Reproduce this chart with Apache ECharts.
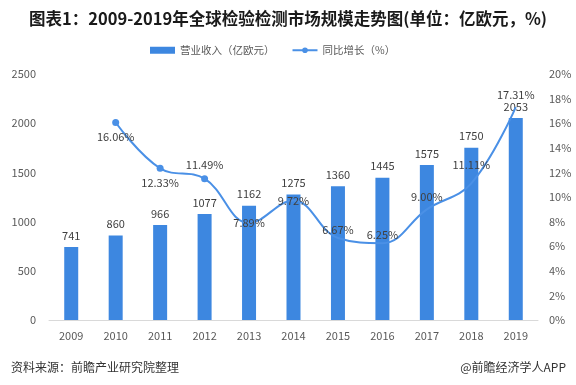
<!DOCTYPE html>
<html><head><meta charset="utf-8">
<script src="https://cdn.jsdelivr.net/npm/echarts@6/dist/echarts.min.js"></script>
<style>html,body{margin:0;padding:0;background:#fff}#c{width:576px;height:385px}</style>
</head><body><div id="c"></div>
<script>
const years = ['2009','2010','2011','2012','2013','2014','2015','2016','2017','2018','2019'];
const revenue = [741, 860, 966, 1077, 1162, 1275, 1360, 1445, 1575, 1750, 2053];
const growth = [null, 16.06, 12.33, 11.49, 7.89, 9.72, 6.67, 6.25, 9.00, 11.11, 17.31];
const leftTicks = [0, 500, 1000, 1500, 2000, 2500];
const rightTicks = [0, 2, 4, 6, 8, 10, 12, 14, 16, 18, 20];

const labelPos = [null, ['bottom',[0,0]], ['bottom',[0,0]], ['top',[0,0]], ['top',[0,10]], ['inside',[0,0]], ['top',[0,2]], ['top',[0,2]], ['top',[0,-2]], ['top',[0,-8]], ['top',[0,-2]]];
const showMarker = [false, true, true, true, false, false, false, false, false, false, false];

const chart = echarts.init(document.getElementById('c'));
chart.setOption({
  animation: false,
  textStyle: {fontFamily: '"Noto Sans CJK SC", "Liberation Sans", sans-serif'},
  title: [{
    text: '图表1：2009-2019年全球检验检测市场规模走势图(单位：亿欧元，%)',
    left: 'center', top: 5,
    textStyle: {fontSize: 16.5, fontWeight: 'bold', color: '#1a1a1a', fontFamily: '"Noto Sans CJK SC", sans-serif'}
  }, {
    text: '资料来源：前瞻产业研究院整理', left: 6, top: 356,
    textStyle: {fontSize: 12, fontWeight: 'normal', color: '#333'}
  }, {
    text: '@前瞻经济学人APP', right: 5, top: 356,
    textStyle: {fontSize: 12, fontWeight: 'normal', color: '#333'}
  }],
  legend: {
    top: 40, left: 145, itemGap: 17, itemWidth: 25, itemHeight: 7,
    textStyle: {fontSize: 10.5, color: '#595959'},
    data: [{name: '营业收入（亿欧元）', icon: 'rect'}, {name: '同比增长（%）'}]
  },
  grid: {left: 49, right: 38, top: 74, bottom: 65, containLabel: false},
  xAxis: {
    type: 'category', data: years,
    axisLine: {lineStyle: {color: '#d9d9d9'}},
    axisTick: {show: false},
    axisLabel: {color: '#595959', fontSize: 11, margin: 10}
  },
  yAxis: [{
    type: 'value', min: leftTicks[0], max: leftTicks[leftTicks.length-1], interval: 500,
    splitLine: {show: false}, axisLine: {show: false}, axisTick: {show: false},
    axisLabel: {color: '#595959', fontSize: 11, margin: 13, formatter: v => String(v)}
  }, {
    type: 'value', min: rightTicks[0], max: rightTicks[rightTicks.length-1], interval: 2,
    splitLine: {show: false}, axisLine: {show: false}, axisTick: {show: false},
    axisLabel: {color: '#595959', fontSize: 11, margin: 11, formatter: '{value}%'}
  }],
  series: [{
    name: '营业收入（亿欧元）', type: 'bar', data: revenue, barWidth: 14,
    itemStyle: {color: '#3d87e0'},
    label: {show: true, position: 'top', color: '#404040', fontSize: 11, distance: 6}
  }, {
    name: '同比增长（%）', type: 'line', yAxisIndex: 1, smooth: 0.4,
    lineStyle: {color: '#4a90e6', width: 2},
    itemStyle: {color: '#4a90e6'},
    symbol: 'circle', symbolSize: 7,
    data: growth.map((v, i) => v === null ? null : {
      value: v,
      symbolSize: showMarker[i] ? 7 : 0,
      label: {show: true, position: labelPos[i][0], offset: labelPos[i][1], formatter: v.toFixed(2) + '%', color: '#404040', fontSize: 11}
    }),
    z: 3
  }]
});
</script></body></html>
